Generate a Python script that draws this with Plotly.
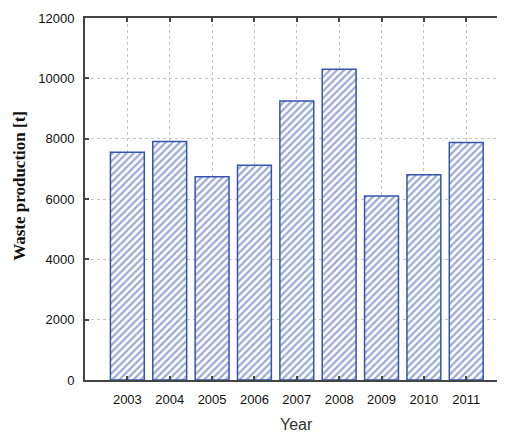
import plotly.graph_objects as go

years = [2003, 2004, 2005, 2006, 2007, 2008, 2009, 2010, 2011]
waste = [7550, 7910, 6740, 7120, 9250, 10300, 6100, 6800, 7870]
y_ticks = [0, 2000, 4000, 6000, 8000, 10000, 12000]

blue = "#3555ad"

# The page body has an 8px default margin, so the figure is sized/offset to compensate.
W, H = 497, 424
L, T, B = 77, 10, 52

fig = go.Figure()
fig.add_trace(go.Bar(
    x=years, y=waste, width=0.8,
    marker=dict(
        color="white",
        line=dict(color=blue, width=1.5),
        pattern=dict(shape="/", fgcolor=blue, bgcolor="white", size=5, solidity=0.45),
    ),
))

axis_common = dict(
    showline=True, linecolor="#444444", linewidth=2, mirror="ticks",
    ticks="inside", ticklen=4, tickwidth=2, tickcolor="#444444",
    showgrid=True, gridcolor="#c4c4c4", griddash="dot", gridwidth=1,
    zeroline=False, automargin=False,
    tickfont=dict(family="Arial, Liberation Sans", size=13, color="#111111"),
)

fig.update_layout(
    width=W, height=H,
    margin=dict(l=L, r=0, t=T, b=B),
    paper_bgcolor="white", plot_bgcolor="white",
    showlegend=False,
    xaxis=dict(axis_common, range=[2002, 2011.915], tickvals=years,
               ticktext=[str(y) for y in years], ticklabelstandoff=6),
    yaxis=dict(axis_common, range=[0, 12000], tickvals=y_ticks,
               ticktext=[str(v) for v in y_ticks], ticklabelstandoff=6),
    annotations=[
        dict(text="Waste production [t]", xref="paper", yref="paper",
             x=-0.155, y=0.536, xanchor="center", yanchor="middle", textangle=-90, showarrow=False,
             font=dict(family="Liberation Serif, Times New Roman", size=17, color="#111111", weight="bold")),
        dict(text="Year", xref="x", yref="paper", x=2007.0, y=-0.124,
             xanchor="center", yanchor="middle", showarrow=False,
             font=dict(family="Arial, Liberation Sans", size=16, color="#333333")),
    ],
)

fig.write_html("out.html")
